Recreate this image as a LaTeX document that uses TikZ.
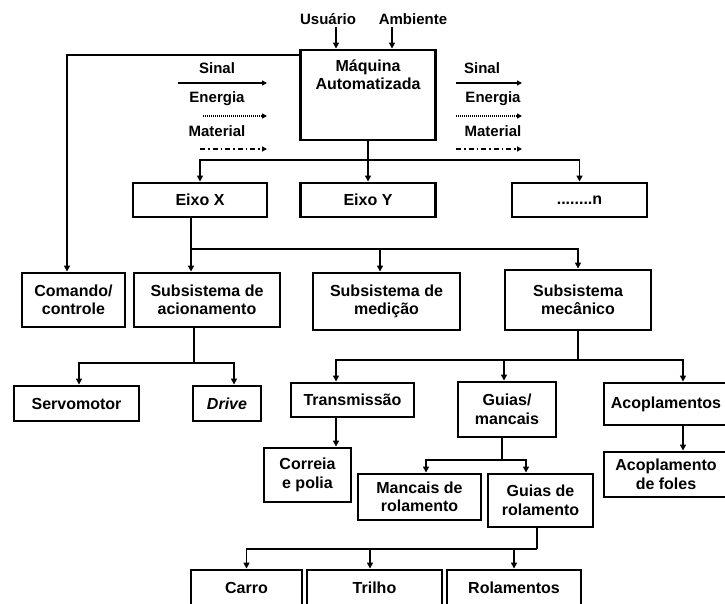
\documentclass[tikz,border=0pt]{standalone}
\usepackage{fontspec}
\setmainfont{Liberation Sans}
\usetikzlibrary{arrows.meta}
\begin{document}
\begin{tikzpicture}[x=1pt,y=-1pt,
  box/.style={draw, line width=2.9pt, align=center, inner sep=0pt, font=\bfseries\fontsize{16}{18.5}\selectfont},
  txt/.style={inner sep=0pt, align=center, font=\bfseries\fontsize{15}{18}\selectfont},
  conn/.style={line width=1.5pt},
  arr/.style={line width=1.5pt, -{Triangle[length=6pt,width=6pt]}},
  leg/.style={line width=1.3pt, -{Triangle[length=5pt,width=5pt]}},
]
\useasboundingbox (0,0) rectangle (725,603);
\fill[white] (0,0) rectangle (725,603);

% top labels
\node[txt] (usu) at (328,19) {Usuário};
\node[txt] (amb) at (413,19) {Ambiente};

% boxes
\node[box, minimum width=135pt, minimum height=90pt] (mach) at (368,95) {};
\node[box, draw=none, anchor=north] (machlbl) at (368,58) {Máquina\\Automatizada};

\node[box, minimum width=134pt, minimum height=34pt] (eixox) at (200,200) {Eixo X};
\node[box, minimum width=135pt, minimum height=34pt] (eixoy) at (368,200) {Eixo Y};
\node[box, minimum width=135pt, minimum height=34pt] (eixon) at (579.5,200) {........n};

\node[box, minimum width=103pt, minimum height=54pt] (comando) at (73.5,300) {Comando/\\controle};
\node[box, minimum width=146pt, minimum height=54pt] (acion) at (207,300) {Subsistema de\\acionamento};
\node[box, minimum width=147pt, minimum height=57pt] (medicao) at (386.5,301.5) {Subsistema de\\medição};
\node[box, minimum width=146pt, minimum height=60pt] (mecanico) at (578,300) {Subsistema\\mecânico};

\node[box, minimum width=125pt, minimum height=35pt] (servo) at (76.5,403.5) {Servomotor};
\node[box, minimum width=68pt, minimum height=35pt] (drive) at (227,403.5) {\textit{Drive}};

\node[box, minimum width=123pt, minimum height=34pt] (transm) at (352.5,400) {Transmissão};
\node[box, minimum width=98pt, minimum height=55pt] (guiasm) at (507,409.5) {Guias/\\mancais};
\node[box, minimum width=124pt, minimum height=42pt] (acopl) at (666,404) {Acoplamentos};

\node[box, minimum width=87pt, minimum height=54pt] (correia) at (307.5,475) {Correia\\e polia};
\node[box, minimum width=123pt, minimum height=46pt] (mancais) at (419.5,497) {Mancais de\\rolamento};
\node[box, minimum width=105pt, minimum height=53pt] (guiasr) at (540.5,500.5) {Guias de\\rolamento};
\node[box, minimum width=124pt, minimum height=45pt] (acoplf) at (666,474.5) {Acoplamento\\de foles};

\node[box, minimum width=111pt, minimum height=36pt] (carro) at (246.5,588) {Carro};
\node[box, minimum width=135pt, minimum height=36pt] (trilho) at (374.5,588) {Trilho};
\node[box, minimum width=134pt, minimum height=36pt] (rolam) at (514,588) {Rolamentos};

% legend
\node[txt] (lsin) at (217,68) {Sinal};
\node[txt] (lene) at (217,99) {Energia};
\node[txt] (lmat) at (217,131) {Material};
\node[txt] (rsin) at (482,68) {Sinal};
\node[txt] (rene) at (493,99) {Energia};
\node[txt] (rmat) at (493,131) {Material};
\coordinate (ls1) at (178,83);  \coordinate (ls2) at (267,83);
\coordinate (le1) at (203,116); \coordinate (le2) at (267,116);
\coordinate (lm1) at (200,149); \coordinate (lm2) at (267,149);
\coordinate (rs1) at (456,83);  \coordinate (rs2) at (522,83);
\coordinate (re1) at (456,116); \coordinate (re2) at (522,116);
\coordinate (rm1) at (456,149); \coordinate (rm2) at (522,149);
\draw[leg] (ls1) -- (ls2);
\draw[leg, dash pattern=on 1pt off 1pt] (le1) -- (le2);
\draw[leg, dash pattern=on 5pt off 3pt on 1.5pt off 3pt] (lm1) -- (lm2);
\draw[leg] (rs1) -- (rs2);
\draw[leg, dash pattern=on 1pt off 1pt] (re1) -- (re2);
\draw[leg, dash pattern=on 5pt off 3pt on 1.5pt off 3pt] (rm1) -- (rm2);

% inputs
\draw[arr] ([xshift=8pt,yshift=-2pt]usu.south) -- ([xshift=8pt]usu.south |- mach.north);
\draw[arr] ([xshift=-21pt,yshift=-2pt]amb.south) -- ([xshift=-21pt]amb.south |- mach.north);

% feedback to command
\draw[arr] ([yshift=40pt]mach.west) -| ([xshift=-6.5pt]comando.north);

% machine to axes
\coordinate (b1) at (368,160);
\draw[conn] (mach.south) -- (b1);
\draw[arr] (b1) -| (eixox.north);
\draw[arr] (b1) -- (eixoy.north);
\draw[arr] (b1) -| (eixon.north);

% axis X to subsystems
\coordinate (b2) at (191,249);
\draw[conn] ([xshift=-9pt]eixox.south) -- (b2);
\draw[arr] (b2) -- (b2 |- acion.north);
\draw[arr] (b2) -| ([xshift=-6.5pt]medicao.north);
\draw[arr] (b2) -| (mecanico.north);

% actuation
\coordinate (b3) at (194,363);
\draw[conn] ([xshift=-13pt]acion.south) -- (b3);
\draw[arr] (b3) -| ([xshift=2.5pt]servo.north);
\draw[arr] (b3) -| ([xshift=7pt]drive.north);

% mechanical
\coordinate (b4) at (578,360);
\draw[conn] (mecanico.south) -- (b4);
\draw[arr] (b4) -| ([xshift=-16.5pt]transm.north);
\draw[arr] (b4) -| ([xshift=-3pt]guiasm.north);
\draw[arr] (b4) -| ([xshift=17pt]acopl.north);

\draw[arr] ([xshift=-16.5pt]transm.south) -- ([xshift=-16.5pt]transm.south |- correia.north);
\draw[arr] ([xshift=17pt]acopl.south) -- ([xshift=17pt]acopl.south |- acoplf.north);

% guides
\coordinate (b5) at (502,460);
\draw[conn] ([xshift=-5pt]guiasm.south) -- (b5);
\draw[arr] (b5) -| ([xshift=6.5pt]mancais.north);
\draw[arr] (b5) -| ([xshift=-14.5pt]guiasr.north);

\coordinate (b6) at (537,549);
\draw[conn] ([xshift=-3.5pt]guiasr.south) -- (b6);
\draw[arr] (b6) -| (carro.north);
\draw[arr] (b6) -| ([xshift=-4.5pt]trilho.north);
\draw[arr] (b6) -| (rolam.north);
\end{tikzpicture}
\end{document}
